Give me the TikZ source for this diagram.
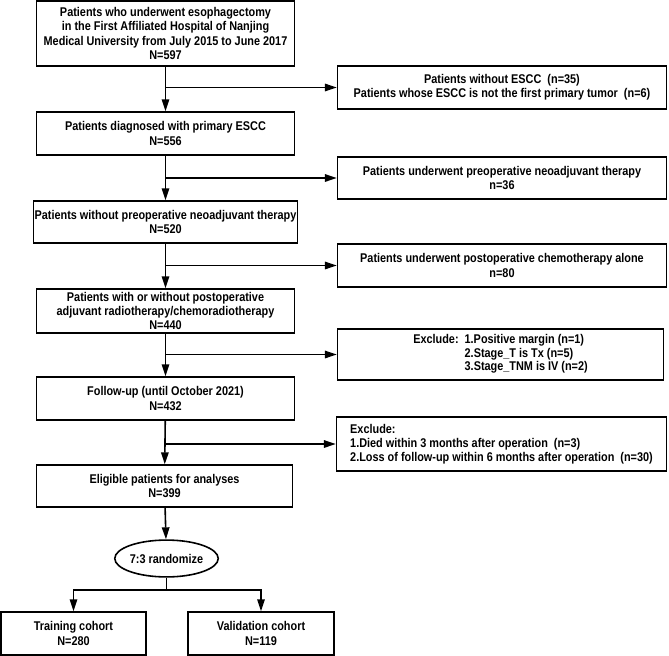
\documentclass[tikz,border=0pt]{standalone}
\usepackage{fontspec}
\setmainfont{Liberation Sans}[FakeStretch=0.86]
\usetikzlibrary{shapes.geometric,arrows.meta}
\begin{document}
\begin{tikzpicture}[x=1bp,y=-1bp,
  every node/.style={font=\bfseries\fontsize{12.7}{14.2}\selectfont},
  box/.style={draw,line width=1.6pt,inner sep=1pt,align=center},
  arr/.style={line width=1.6pt,-{Triangle[length=12pt,width=7.5pt]}},
  ln/.style={line width=1.6pt}]
\useasboundingbox (0,0) rectangle (669,656);
\node[box,minimum width=259,minimum height=65] (b1) at (165.5,33.5) {Patients who underwent esophagectomy\\in the First Affiliated Hospital of Nanjing\\Medical University from July 2015 to June 2017\\N=597};
\node[box,minimum width=259,minimum height=43] (b2) at (165.5,133.5) {Patients diagnosed with primary ESCC\\N=556};
\node[box,minimum width=259,minimum height=42] (b3) at (165.5,222) {Patients without preoperative neoadjuvant therapy\\N=520};
\node[box,minimum width=259,minimum height=44] (b4) at (165.5,311) {Patients with or without postoperative\\adjuvant radiotherapy/chemoradiotherapy\\N=440};
\node[box,minimum width=259,minimum height=43] (b5) at (165.5,398.5) {Follow-up (until October 2021)\\N=432};
\node[box,minimum width=257,minimum height=42] (b6) at (164.5,486) {Eligible patients for analyses\\N=399};
\node[draw,ellipse,line width=1.6pt,minimum width=103,minimum height=37,inner sep=0] (el) at (166.5,558.5) {7:3 randomize};
\node[box,minimum width=145,minimum height=43] (tr) at (73.5,633.5) {Training cohort\\N=280};
\node[box,minimum width=146,minimum height=43] (va) at (261,633.5) {Validation cohort\\N=119};
\node[box,minimum width=330,minimum height=43] (r1) at (502,87.5) {Patients without ESCC~~(n=35)\\Patients whose ESCC is not the first primary tumor~~(n=6)};
\node[box,minimum width=330,minimum height=42] (r2) at (502,178) {Patients underwent preoperative neoadjuvant therapy\\n=36};
\node[box,minimum width=330,minimum height=43] (r3) at (502,265.5) {Patients underwent postoperative chemotherapy alone\\n=80};
\node[box,minimum width=327,minimum height=51] (r4) at (500.5,354.5) {\begin{tabular}{@{}l@{~~}l@{}}Exclude: & 1.Positive margin (n=1)\\[-0.7pt] & 2.Stage\_T is Tx (n=5)\\[-0.7pt] & 3.Stage\_TNM is IV (n=2)\end{tabular}};
\node[box,minimum width=331,minimum height=54,align=left] (r5) at (501.5,444) {Exclude:\\1.Died within 3 months after operation~~(n=3)\\2.Loss of follow-up within 6 months after operation~~(n=30)};
\draw[arr] (b1) -- (b2);
\draw[arr] (b2) -- (b3);
\draw[arr] (b3) -- (b4);
\draw[arr] (b4) -- (b5);
\draw[arr] (b5) -- (b6);
\draw[arr] (b6) -- (el);
\draw[arr] (b1.south |- r1.west) -- (r1.west);
\draw[arr] (b2.south |- r2.west) -- (r2.west);
\draw[arr] (b3.south |- r3.west) -- (r3.west);
\draw[arr] (b4.south |- r4.west) -- (r4.west);
\draw[arr] (b5.south |- r5.west) -- (r5.west);
\coordinate (sp) at (166.5,590);
\draw[ln] (el.south) -- (sp);
\draw[arr] (sp) -| (tr.north);
\draw[arr] (sp) -| (va.north);
\end{tikzpicture}
\end{document}
